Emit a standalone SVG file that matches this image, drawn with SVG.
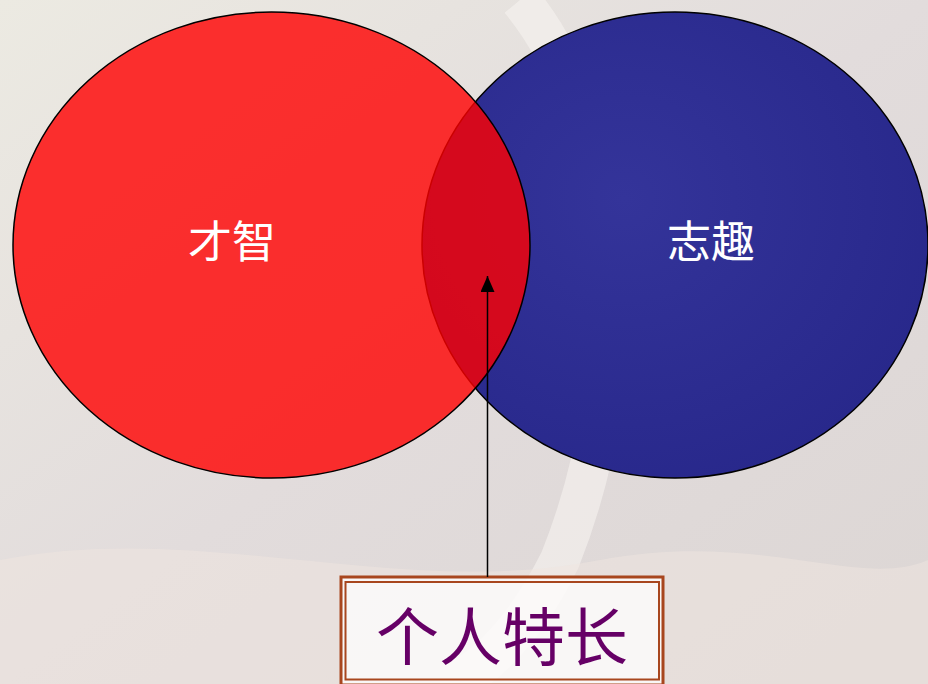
<svg xmlns="http://www.w3.org/2000/svg" width="928" height="684" viewBox="0 0 928 684">
<defs>
<style>
.lbl{font-family:"Noto Sans CJK SC","Noto Sans CJK TC",sans-serif;fill:#ffffff;font-size:44px;text-anchor:middle}
.big{font-family:"Noto Sans CJK SC","Noto Sans CJK TC",sans-serif;fill:#660066;font-size:63px;text-anchor:middle}
.frame{fill:none;stroke:#A8461E}
</style>
<linearGradient id="bg" x1="0" y1="0" x2="1" y2="1">
<stop offset="0" stop-color="#ECEAE2"/>
<stop offset="0.5" stop-color="#E2DCDC"/>
<stop offset="1" stop-color="#DCD6D4"/>
</linearGradient>
<radialGradient id="blueG" cx="0.4" cy="0.4" r="0.7">
<stop offset="0" stop-color="#34349A"/>
<stop offset="1" stop-color="#27278A"/>
</radialGradient>
<marker id="ah2" viewBox="0 0 16 14" refX="16" refY="7" markerWidth="16" markerHeight="14" markerUnits="userSpaceOnUse" orient="auto">
<path d="M0,0 L16,7 L0,14 z" fill="#000"/>
</marker>
</defs>
<rect width="928" height="684" fill="url(#bg)"/>
<path d="M520,0 C620,120 640,360 560,560 C520,640 470,684 440,684" fill="none" stroke="#F6F4F0" stroke-width="40" opacity="0.6"/>
<path d="M0,560 C200,520 400,600 600,560 C760,530 860,590 928,560 L928,684 L0,684 z" fill="#EFE6E0" opacity="0.5"/>
<g id="node-zhiqu">
<ellipse cx="675" cy="245" rx="253" ry="233" fill="url(#blueG)" stroke="#000" stroke-width="1.5"/>
<text class="lbl" x="711" y="258">志趣</text>
</g>
<g id="node-caizhi">
<ellipse cx="271.5" cy="245" rx="258.5" ry="233" fill="#FF0000" fill-opacity="0.8" stroke="#000" stroke-width="1.5"/>
<text class="lbl" x="232" y="258">才智</text>
</g>
<g id="node-gerentechang">
<rect x="341" y="577" width="322" height="108" fill="#FFFFFF" fill-opacity="0.75"/>
<rect class="frame" x="341" y="577" width="322" height="108" stroke-width="3"/>
<rect class="frame" x="345.5" y="582" width="313.5" height="97.5" stroke-width="2"/>
<text class="big" x="502" y="660">个人特长</text>
</g>
<g id="connectors">
<line x1="487.5" y1="577" x2="487.5" y2="276" stroke="#000" stroke-width="1.5" marker-end="url(#ah2)"/>
</g>
</svg>
